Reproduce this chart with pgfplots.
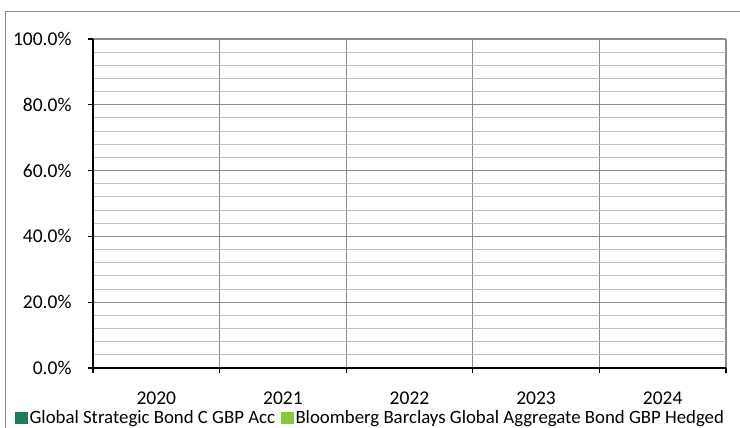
\documentclass[border=0pt]{standalone}
\usepackage{pgfplots}
\pgfplotsset{compat=1.18}
\usepackage{fontspec}
\setmainfont{Carlito}
\definecolor{fundgreen}{HTML}{1E7B5C}
\definecolor{benchgreen}{HTML}{8DC63F}
\definecolor{majgrid}{HTML}{8C8C8C}
\definecolor{mingrid}{HTML}{C0C0C0}
\begin{document}
\begin{tikzpicture}
\path[use as bounding box] (0bp,0bp) rectangle (740bp,428bp);
\draw[majgrid, line width=1bp] (5bp,0bp) -- (5bp,416bp) -- (740bp,416bp);
\begin{axis}[
  at={(93bp,60bp)}, anchor=south west,
  width=633bp, height=329bp, scale only axis,
  xmin=0, xmax=5, ymin=0, ymax=100,
  axis x line*=bottom, axis y line*=left,
  x axis line style={black, line width=1.8bp, -},
  y axis line style={black, line width=1.3bp, -},
  xtick={0,1,2,3,4,5}, xticklabels={},
  extra x ticks={0.5,1.5,2.5,3.5,4.5},
  extra x tick labels={2020,2021,2022,2023,2024},
  extra x tick style={major tick length=0pt, grid=none},
  ytick={0,20,40,60,80,100},
  yticklabels={0.0\%,20.0\%,40.0\%,60.0\%,80.0\%,100.0\%},
  minor y tick num=4,
  xmajorgrids, ymajorgrids, yminorgrids,
  major grid style={majgrid, line width=1.2bp},
  minor grid style={mingrid, line width=1bp},
  tick align=outside, major tick length=5bp, minor tick length=0pt,
  tick style={black, line width=1.3bp},
  every tick label/.append style={font=\fontsize{19.5bp}{23bp}\selectfont},
  xticklabel style={yshift=-20bp},
  yticklabel style={xshift=-13bp},
  legend image code/.code={\fill[#1] (0bp,-5.5bp) rectangle (12bp,5.5bp);},
  legend columns=2,
  legend cell align=left,
  legend style={at={(-0.1232,-0.152)}, anchor=west, draw=none, fill=none,
    inner sep=0pt, font=\fontsize{18.8bp}{23bp}\selectfont,
    /tikz/every even column/.append style={column sep=4bp}},
]
\addlegendimage{fundgreen}
\addlegendentry{Global Strategic Bond C GBP Acc}
\addlegendimage{benchgreen}
\addlegendentry{Bloomberg Barclays Global Aggregate Bond GBP Hedged}
\end{axis}
\end{tikzpicture}
\end{document}
